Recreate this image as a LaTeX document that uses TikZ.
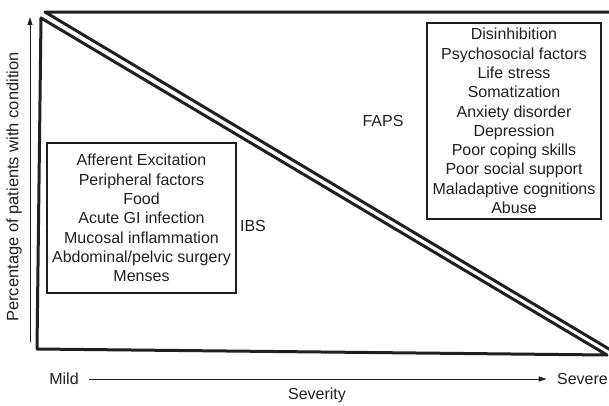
\documentclass[tikz,border=0pt]{standalone}
\usepackage{fontspec}
\setmainfont{Liberation Sans}
\usetikzlibrary{arrows.meta}
\definecolor{ink}{RGB}{35,31,32}
\begin{document}
\begin{tikzpicture}[x=1pt,y=-1pt,
  every node/.style={text=ink,font=\fontsize{16}{19.3}\selectfont},
  tri/.style={draw=ink,line width=3pt,line join=round},
  factorbox/.style={draw=ink,line width=2.4pt,align=center,inner sep=0pt},
  axisarrow/.style={draw=ink,line width=1pt,-{Triangle[length=8pt,width=5pt]}}]
\useasboundingbox (0,0) rectangle (609,405);
\clip (0,0) rectangle (609,405);
% triangles
\coordinate (ua) at (45,12);
\coordinate (ub) at (614,12);
\coordinate (uc) at (614,352);
\coordinate (la) at (41,18);
\coordinate (lb) at (37,349);
\coordinate (lc) at (607,355);
\draw[tri] (ub) -- (ua) -- (uc);
\draw[tri] (la) -- (lb) -- (lc) -- cycle;
% boxes
\node[factorbox,minimum width=189pt,minimum height=150pt] (ibsbox) at (141.5,218)
 {Afferent Excitation\\Peripheral factors\\Food\\Acute GI infection\\Mucosal inflammation\\Abdominal/pelvic surgery\\Menses};
\node[factorbox,minimum width=174pt,minimum height=196pt] (fapsbox) at (514,121)
 {Disinhibition\\Psychosocial factors\\Life stress\\Somatization\\Anxiety disorder\\Depression\\Poor coping skills\\Poor social support\\Maladaptive cognitions\\Abuse};
\node (ibs) at (253,226) {IBS};
\node (faps) at (383,121) {FAPS};
% axes
\coordinate (ybot) at (30,342);
\coordinate (ytop) at (30,17);
\draw[axisarrow] (ybot) -- (ytop);
\node[rotate=90,font=\fontsize{16.5}{19}\selectfont] (ylabel) at (14,187) {Percentage of patients with condition};
\node (mild) at (64,379) {Mild};
\node (severe) at (582.5,379) {Severe};
\draw[axisarrow,shorten <=7pt,shorten >=7pt] (mild) -- (severe);
\node (severity) at (317,395) {Severity};
\end{tikzpicture}
\end{document}
